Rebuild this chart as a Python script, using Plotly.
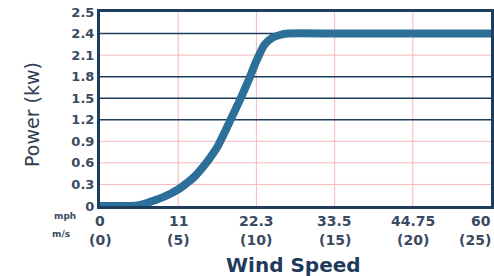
import plotly.graph_objects as go

# Data: wind speed (m/s) vs power (kW)
wind_ms = [0, 1, 2, 2.5, 3, 3.5, 4, 4.5, 5, 5.5, 6, 6.5, 7, 7.5, 8, 8.5, 9, 9.5, 10, 10.5, 11, 11.5, 12, 15, 20, 25]
power_kw = [0, 0, 0, 0.01, 0.04, 0.08, 0.12, 0.17, 0.23, 0.31, 0.40, 0.52, 0.66, 0.82, 1.04, 1.27, 1.50, 1.75, 2.02, 2.24, 2.34, 2.38, 2.40, 2.40, 2.40, 2.40]

x_tickvals = [0, 5, 10, 15, 20, 25]
mph_labels = ["0", "11", "22.3", "33.5", "44.75", "60"]
ms_labels = ["(0)", "(5)", "(10)", "(15)", "(20)", "(25)"]

y_tickvals = [0, 0.3, 0.6, 0.9, 1.2, 1.5, 1.8, 2.1, 2.4, 2.7]
y_ticktext = ["0", "0.3", "0.6", "0.9", "1.2", "1.5", "1.8", "2.1", "2.4", "2.5"]
dark_grid_y = [1.2, 1.5, 1.8, 2.4]
red_grid_y = [0.3, 0.6, 0.9, 2.1]
red_grid_x = [5, 10, 15, 20]

NAVY = "#1d3d5c"
RED = "#f3b9b9"
TXT = "#3a4a60"

# plot area target in page px: x 100..491, y 12..206 (body margin removed below)
L, R, T, B = 100, 491, 12, 206
W, H = 494, 276
plot_w = R - L
plot_h = B - T


def px_x(p):  # page x -> paper
    return (p - L) / plot_w


def px_y(p):  # page y -> paper
    return (B - p) / plot_h


fig = go.Figure()
fig.add_trace(go.Scatter(
    x=wind_ms, y=power_kw, mode="lines",
    line=dict(color="#2c6f98", width=8, shape="spline", smoothing=0.6),
    hoverinfo="skip", showlegend=False,
))

for v in red_grid_y:
    fig.add_hline(y=v, line=dict(color=RED, width=1), layer="below")
for v in red_grid_x:
    fig.add_vline(x=v, line=dict(color=RED, width=1), layer="below")
for v in dark_grid_y:
    fig.add_hline(y=v, line=dict(color=NAVY, width=1.5), layer="below")

# two rows of x labels (mph on top, m/s below); last pair kept inside the page edge
for i, (xv, t1, t2) in enumerate(zip(x_tickvals, mph_labels, ms_labels)):
    last = i == len(x_tickvals) - 1
    for t, py in ((t1, 221), (t2, 240)):
        fig.add_annotation(x=xv, y=px_y(py), xref="x", yref="paper", text=t, showarrow=False,
                           font=dict(family="DejaVu Sans", size=14, color=TXT, weight="bold"),
                           xanchor="right" if last else "center", xshift=2 if last else 0,
                           yanchor="middle")

fig.add_annotation(x=px_x(52), y=px_y(223), xref="paper", yref="paper", text="mph", showarrow=False,
                   font=dict(family="DejaVu Sans", size=9, color=TXT, weight="bold"))
fig.add_annotation(x=px_x(50), y=px_y(241), xref="paper", yref="paper", text="m/s", showarrow=False,
                   font=dict(family="DejaVu Sans", size=9, color=TXT, weight="bold"))

fig.add_annotation(x=px_x(293), y=px_y(265), xref="paper", yref="paper", text="Wind Speed", showarrow=False,
                   xanchor="center", yanchor="middle",
                   font=dict(family="DejaVu Sans", size=20, color="#1f3a5a", weight="bold"))
fig.add_annotation(x=px_x(32), y=px_y(115), xref="paper", yref="paper", text="Power (kw)", showarrow=False,
                   textangle=-90, xanchor="center", yanchor="middle",
                   font=dict(family="DejaVu Sans", size=19, color="#2d3e55"))

fig.update_layout(
    width=W, height=H,
    margin=dict(l=L, r=W - R, t=T, b=H - B, pad=0),
    paper_bgcolor="white", plot_bgcolor="white",
    template="none",
    xaxis=dict(range=[0, 25], tickvals=x_tickvals, showticklabels=False, showgrid=False, zeroline=False,
               showline=True, linecolor=NAVY, linewidth=3, mirror=True, ticks="", automargin=False),
    yaxis=dict(range=[0, 2.7], tickvals=y_tickvals, ticktext=y_ticktext, showgrid=False, zeroline=False,
               showline=True, linecolor=NAVY, linewidth=3, mirror=True, ticks="",
               ticklabeloverflow="allow",
               tickfont=dict(family="DejaVu Sans", size=13, color=TXT, weight="bold"), automargin=False),
)

fig.write_html("out.html", config={"displayModeBar": False, "staticPlot": True},
               post_script="document.body.style.margin='0';")
